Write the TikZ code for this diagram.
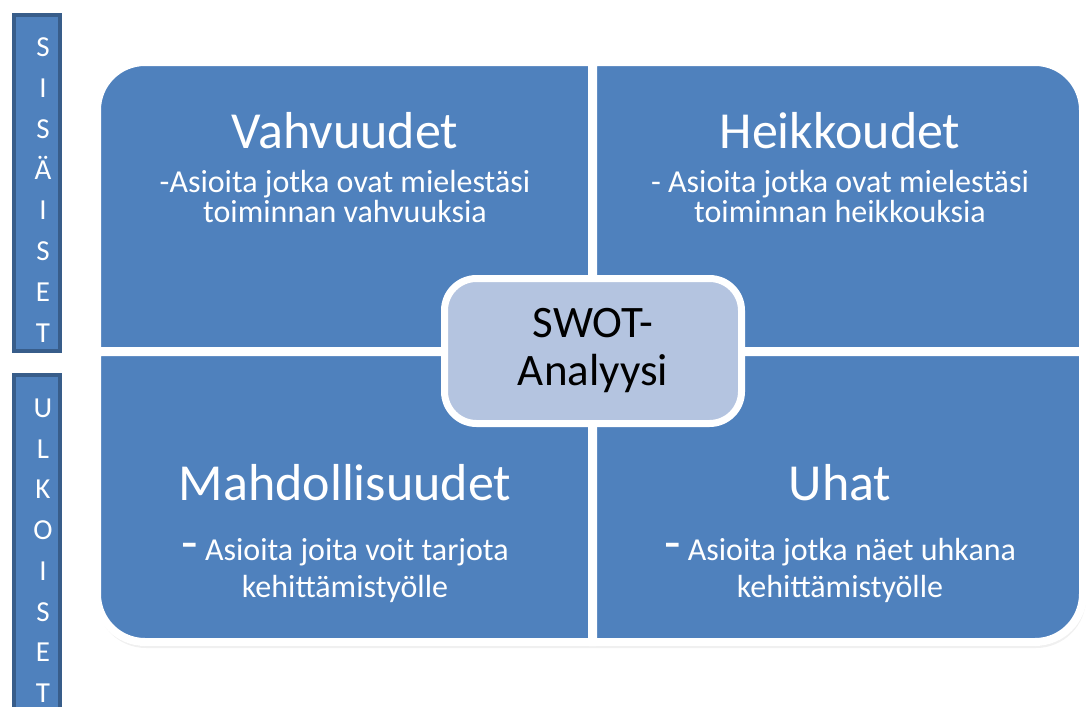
\documentclass[tikz,border=0pt]{standalone}
\usepackage{fontspec}
\setmainfont{Carlito}

\definecolor{swotblue}{RGB}{79,129,189}
\definecolor{swotdark}{RGB}{56,93,138}
\definecolor{swotlight}{RGB}{180,196,224}

\begin{document}
\begin{tikzpicture}[x=1pt,y=-1pt,
  quad/.style={fill=swotblue,draw=white,line width=8pt},
  bar/.style={fill=swotblue,draw=swotdark,line width=4pt},
  letter/.style={anchor=base,text=white,inner sep=0pt,font=\fontsize{29}{30}\selectfont},
  title/.style={anchor=base,text=white,inner sep=0pt,font=\fontsize{52}{56}\selectfont},
  body/.style={anchor=base,text=white,inner sep=0pt,font=\fontsize{32}{34}\selectfont}]
\useasboundingbox (0,0) rectangle (1090,707);
\clip (0,0) rectangle (1090,707);

\draw[bar] (14,15) rectangle (60,351);
\draw[bar] (14,375) rectangle (60,740);
\foreach \c [count=\i from 0] in {S,I,S,Ä,I,S,E,T}
  \node[letter] (sis\i) at (43,{56.5+40.86*\i}) {\c};
\foreach \c [count=\i from 0] in {U,L,K,O,I,S,E,T}
  \node[letter] (ulk\i) at (43,{417.5+40.7*\i}) {\c};

\fill[black,opacity=0.06,rounded corners=50] (96,64) rectangle (1086,648);
\fill[black,opacity=0.06,rounded corners=50] (95,63) rectangle (1085,646);

\draw[quad] (592,351) -- (97,351) -- (97,110) arc[start angle=180,end angle=270,radius=48] -- (592,62) -- cycle;
\draw[quad] (593,351) -- (593,62) -- (1035,62) arc[start angle=270,end angle=360,radius=48] -- (1083,351) -- cycle;
\draw[quad] (592,352) -- (592,642) -- (145,642) arc[start angle=90,end angle=180,radius=48] -- (97,352) -- cycle;
\draw[quad] (593,352) -- (1083,352) -- (1083,594) arc[start angle=0,end angle=90,radius=48] -- (593,642) -- cycle;

\node[title] (vahv) at (345,148) {Vahvuudet};
\node[body] (vahv1) at (345,192) {-Asioita jotka ovat mielestäsi};
\node[body] (vahv2) at (345,222) {toiminnan vahvuuksia};

\node[title] (heik) at (840,148) {Heikkoudet};
\node[body] (heik1) at (840,192) {- Asioita jotka ovat mielestäsi};
\node[body] (heik2) at (840,222) {toiminnan heikkouksia};

\node[title] (mahd) at (345,500) {Mahdollisuudet};
\node[body] (mahd1) at (345,560) {{\fontsize{54}{56}\selectfont -} Asioita joita voit tarjota};
\node[body] (mahd2) at (345,597) {kehittämistyölle};

\node[title] (uhat) at (840,500) {Uhat};
\node[body] (uhat1) at (840,560) {{\fontsize{54}{56}\selectfont -} Asioita jotka näet uhkana};
\node[body] (uhat2) at (840,597) {kehittämistyölle};

\node[draw=white,line width=7pt,fill=swotlight,rounded corners=32pt,
  minimum width=297pt,minimum height=145pt,inner sep=0pt,align=center,
  font=\fontsize{45}{48}\selectfont] (swot) at (593,351) {SWOT-\\Analyysi};
\end{tikzpicture}
\end{document}
